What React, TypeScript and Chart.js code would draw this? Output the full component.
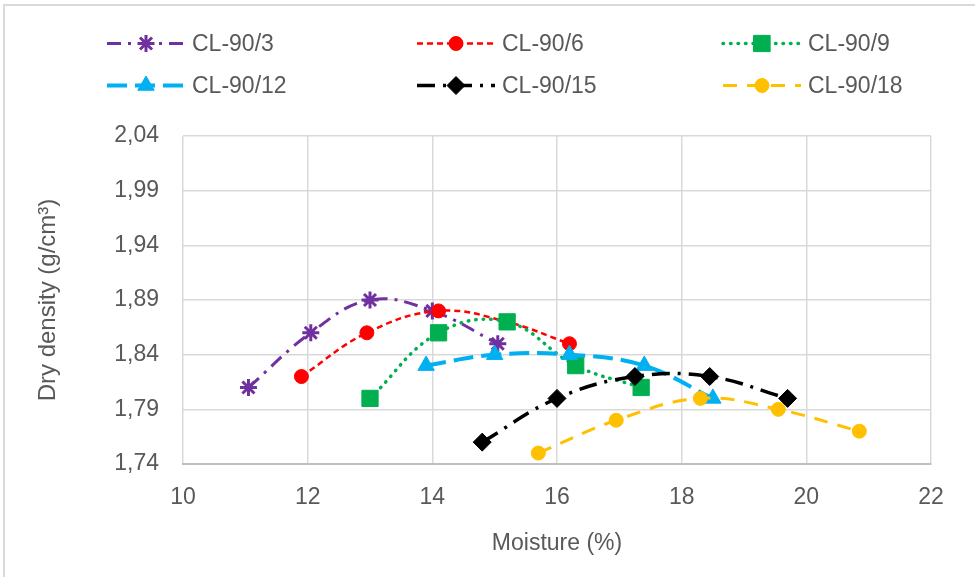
import React, { useEffect, useRef } from 'react';
import { Chart, registerables } from 'chart.js';
import { drawPoint } from 'chart.js/helpers';

Chart.register(...registerables);

// ---- data ----
const seriesNames = ['CL-90/3', 'CL-90/6', 'CL-90/9', 'CL-90/12', 'CL-90/15', 'CL-90/18'];
const moisture3 = [11.05, 12.05, 13.0, 14.0, 15.05];
const density3 = [1.81, 1.86, 1.89, 1.88, 1.85];
const moisture6 = [11.9, 12.95, 14.1, 15.2, 16.2];
const density6 = [1.82, 1.86, 1.88, 1.87, 1.85];
const moisture9 = [13.0, 14.1, 15.2, 16.3, 17.35];
const density9 = [1.8, 1.86, 1.87, 1.83, 1.81];
const moisture12 = [13.9, 15.0, 16.2, 17.4, 18.5];
const density12 = [1.83, 1.84, 1.84, 1.83, 1.8];
const moisture15 = [14.8, 16.0, 17.25, 18.45, 19.7];
const density15 = [1.76, 1.8, 1.82, 1.82, 1.8];
const moisture18 = [15.7, 16.95, 18.3, 19.55, 20.85];
const density18 = [1.75, 1.78, 1.8, 1.79, 1.77];
const xTicks = [10, 12, 14, 16, 18, 20, 22];
const yTicks = [1.74, 1.79, 1.84, 1.89, 1.94, 1.99, 2.04];
const xTitle = 'Moisture (%)';
const yTitle = 'Dry density (g/cm³)';

const FONT = "'Liberation Sans', Arial, sans-serif";
const TEXT = '#595959';

const toPts = (xs: number[], ys: number[]) => xs.map((x, i) => ({ x, y: ys[i] }));

const styles = [
  { color: '#7030A0', dash: [14, 7, 3, 7], width: 3, point: 'star', radius: 8.5, pbw: 3, cap: 'butt' },
  { color: '#FF0000', dash: [6, 4], width: 2.5, point: 'circle', radius: 7, pbw: 1, cap: 'butt' },
  { color: '#00B050', dash: [0.5, 7], width: 3.5, point: 'rect', radius: 11.5, pbw: 1, cap: 'round' },
  { color: '#00B0F0', dash: [20, 8], width: 4, point: 'triangle', radius: 9.5, pbw: 1, cap: 'butt' },
  { color: '#000000', dash: [18, 8, 3, 8], width: 3.5, point: 'rectRot', radius: 9, pbw: 1, cap: 'butt' },
  { color: '#FFC000', dash: [14, 10], width: 3, point: 'circle', radius: 7, pbw: 1, cap: 'butt' },
];

const legendPlugin = {
  id: 'customLegend',
  afterDraw(chart: any) {
    const ctx = chart.ctx;
    const cols = [107, 417, 723];
    const rows = [43.5, 85.5];
    const len = 78;
    chart.data.datasets.forEach((ds: any, i: number) => {
      const st = styles[i];
      const sx = cols[i % 3];
      const y = rows[Math.floor(i / 3)];
      ctx.save();
      ctx.strokeStyle = st.color;
      ctx.lineWidth = st.width;
      ctx.lineCap = st.cap;
      ctx.setLineDash(st.dash);
      ctx.beginPath();
      ctx.moveTo(sx, y);
      ctx.lineTo(sx + len, y);
      ctx.stroke();
      ctx.setLineDash([]);
      ctx.fillStyle = st.color;
      ctx.strokeStyle = st.color;
      ctx.lineWidth = st.pbw;
      drawPoint(ctx, { pointStyle: st.point, radius: st.radius, rotation: 0, borderWidth: st.pbw } as any, sx + len / 2, y);
      ctx.fillStyle = TEXT;
      ctx.font = `23px ${FONT}`;
      ctx.textBaseline = 'middle';
      ctx.textAlign = 'left';
      ctx.fillText(ds.label, sx + 85, y + 1);
      ctx.restore();
    });
  },
};

export default function App() {
  const ref = useRef<HTMLCanvasElement>(null);
  useEffect(() => {
    if (!ref.current) return;
    const allX = [moisture3, moisture6, moisture9, moisture12, moisture15, moisture18];
    const allY = [density3, density6, density9, density12, density15, density18];
    const chart = new Chart(ref.current, {
      type: 'scatter',
      data: {
        datasets: seriesNames.map((name, i) => ({
          label: name,
          data: toPts(allX[i], allY[i]),
          showLine: true,
          borderColor: styles[i].color,
          backgroundColor: styles[i].color,
          borderWidth: styles[i].width,
          borderDash: styles[i].dash,
          borderCapStyle: styles[i].cap as any,
          tension: 0.4,
          pointStyle: styles[i].point as any,
          pointRadius: styles[i].radius,
          pointBorderWidth: styles[i].pbw,
          pointBackgroundColor: styles[i].color,
          pointBorderColor: styles[i].color,
          order: 5 - i,
        })),
      },
      options: {
        responsive: false,
        animation: false,
        events: [],
        layout: { padding: { top: 136, left: 34, right: 44, bottom: 20 } },
        plugins: { legend: { display: false }, tooltip: { enabled: false } },
        scales: {
          x: {
            type: 'linear',
            min: 10,
            max: 22,
            afterBuildTicks: (s: any) => { s.ticks = xTicks.map((v) => ({ value: v })); },
            afterFit: (s: any) => { s.height = 93; },
            ticks: { color: TEXT, font: { family: FONT, size: 23 }, padding: 20, maxRotation: 0, callback: (v: any) => String(v) },
            grid: { color: '#d9d9d9', lineWidth: 1.5, drawTicks: false },
            border: { color: '#bfbfbf', width: 2 },
            title: { display: true, text: xTitle, color: TEXT, font: { family: FONT, size: 23 }, padding: 0 },
          },
          y: {
            type: 'linear',
            min: 1.74,
            max: 2.04,
            afterBuildTicks: (s: any) => { s.ticks = yTicks.map((v) => ({ value: v })); },
            afterFit: (s: any) => { s.width = 149; },
            ticks: {
              color: TEXT,
              font: { family: FONT, size: 23 },
              padding: 24,
              callback: (v: any) => Number(v).toFixed(2).replace('.', ','),
            },
            grid: { color: '#d9d9d9', lineWidth: 1.5, drawTicks: false },
            border: { display: false },
            title: { display: true, text: yTitle, color: TEXT, font: { family: FONT, size: 24 }, padding: 0 },
          },
        },
      },
      plugins: [legendPlugin],
    });
    return () => chart.destroy();
  }, []);

  return (
    <div style={{ position: 'fixed', left: 0, top: 0, width: 975, height: 577, overflow: 'hidden', background: '#fff' }}>
      <div style={{ position: 'absolute', left: 3, top: 4, width: 1000, height: 620, border: '2px solid #d9d9d9', boxSizing: 'border-box' }} />
      <canvas ref={ref} width={975} height={577} style={{ position: 'absolute', left: 0, top: 0, width: 975, height: 577 }} />
    </div>
  );
}
